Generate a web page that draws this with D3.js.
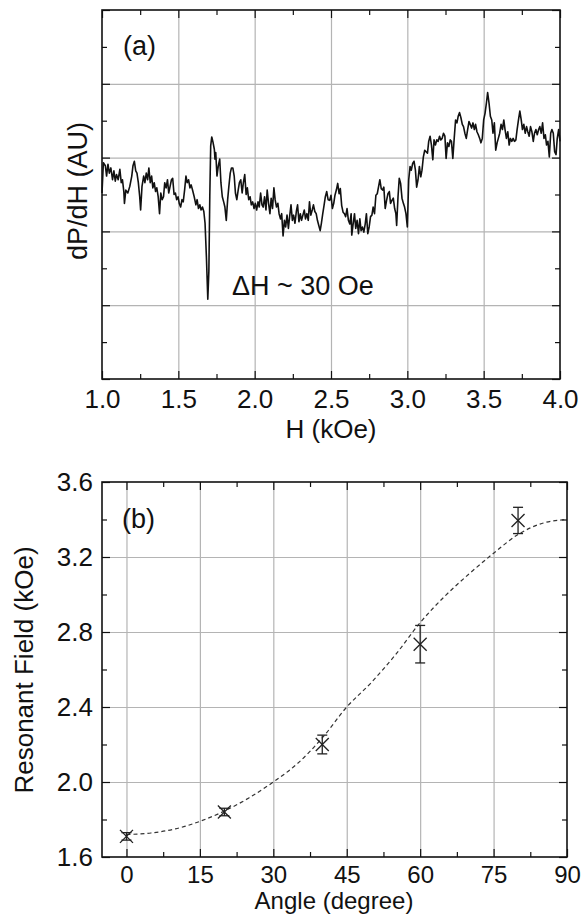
<!DOCTYPE html>
<html>
<head>
<meta charset="utf-8">
<script src="https://cdn.jsdelivr.net/npm/d3@7"></script>
<style>
  body { margin: 0; background: #fff; }
  svg text { font-family: "Liberation Sans", Arial, Helvetica, sans-serif; fill: #111; }
</style>
</head>
<body>
<svg id="chart" width="582" height="915"></svg>
<script>
// (a) FMR derivative spectrum
var fieldH = [
  1.000,1.009,1.022,1.030,1.039,1.048,1.058,1.069,1.078,1.087,
  1.095,1.106,1.117,1.126,1.134,1.143,1.147,1.156,1.169,1.182,
  1.195,1.203,1.212,1.221,1.229,1.238,1.247,1.253,1.262,1.273,
  1.281,1.290,1.299,1.307,1.316,1.325,1.333,1.342,1.351,1.359,
  1.368,1.377,1.385,1.394,1.403,1.411,1.420,1.429,1.437,1.446,
  1.455,1.463,1.472,1.481,1.489,1.498,1.506,1.515,1.524,1.532,
  1.541,1.550,1.558,1.567,1.576,1.584,1.593,1.604,1.615,1.623,
  1.632,1.641,1.649,1.658,1.667,1.675,1.684,1.693,1.700,1.706,
  1.712,1.719,1.727,1.736,1.740,1.745,1.753,1.762,1.771,1.779,
  1.788,1.797,1.805,1.814,1.823,1.831,1.840,1.848,1.857,1.866,
  1.874,1.883,1.892,1.900,1.909,1.918,1.926,1.935,1.944,1.952,
  1.961,1.970,1.978,1.987,1.996,2.004,2.013,2.022,2.030,2.039,
  2.048,2.056,2.065,2.074,2.082,2.091,2.100,2.108,2.117,2.126,
  2.134,2.143,2.152,2.160,2.169,2.177,2.186,2.195,2.203,2.212,
  2.221,2.229,2.238,2.247,2.255,2.264,2.273,2.281,2.290,2.299,
  2.307,2.316,2.325,2.333,2.342,2.351,2.359,2.368,2.377,2.385,
  2.394,2.403,2.411,2.420,2.429,2.437,2.446,2.455,2.463,2.472,
  2.481,
  2.491,2.500,2.509,2.518,2.526,2.535,2.544,2.553,2.561,2.570,
  2.579,2.588,2.596,2.605,2.614,2.623,2.632,2.636,2.645,2.654,
  2.662,2.671,2.680,2.689,2.697,2.706,2.715,2.724,2.732,2.741,
  2.750,2.759,2.768,2.776,2.785,2.794,2.803,2.811,2.820,2.829,
  2.838,2.846,2.855,2.864,2.873,2.882,2.890,2.899,2.908,2.917,
  2.925,2.930,2.939,2.947,2.956,2.965,2.974,2.982,2.991,3.000,
  3.009,3.018,3.026,3.035,3.044,3.053,3.061,3.070,3.079,3.088,
  3.096,3.105,3.114,3.123,3.132,3.140,3.149,3.158,3.167,3.175,
  3.184,3.193,3.202,3.211,3.219,3.228,3.237,3.246,3.254,3.263,
  3.272,3.281,3.289,3.298,3.307,3.316,3.325,3.333,3.342,3.351,
  3.360,3.368,3.377,3.386,3.395,3.404,3.412,3.421,3.430,3.439,
  3.447,3.456,3.465,3.474,3.482,3.491,3.500,3.509,3.518,3.526,
  3.535,3.544,3.553,3.561,3.570,3.579,3.588,3.596,3.605,3.614,
  3.623,3.632,3.640,3.649,3.658,3.667,3.675,3.684,3.693,3.702,
  3.711,3.719,3.728,3.737,3.746,3.754,3.763,3.772,3.781,3.789,
  3.798,3.807,3.816,3.825,3.833,3.842,3.851,3.860,3.868,3.877,
  3.886,3.895,3.904,3.912,3.921,3.930,3.939,3.947,3.956,3.965,
  3.974,3.982,3.991,4.000
];
var signal = [
  2.52,2.93,2.89,2.75,2.91,2.79,2.86,2.70,2.82,2.68,
  2.77,2.70,2.84,2.66,2.70,2.54,2.38,2.56,2.52,2.61,
  2.75,2.89,2.95,2.82,2.79,2.66,2.47,2.29,2.61,2.75,
  2.66,2.79,2.70,2.86,2.66,2.75,2.59,2.66,2.54,2.59,
  2.47,2.24,2.52,2.43,2.47,2.66,2.59,2.70,2.52,2.61,
  2.70,2.72,2.50,2.52,2.43,2.47,2.38,2.33,2.43,2.40,
  2.56,2.75,2.66,2.70,2.59,2.63,2.56,2.47,2.36,2.43,
  2.31,2.36,2.29,2.33,2.27,2.11,1.65,1.08,1.46,2.47,
  3.16,3.28,3.21,3.11,2.98,3.07,2.75,2.89,2.98,2.66,
  2.47,2.40,2.33,2.15,2.43,2.61,2.79,2.86,2.86,2.75,
  2.52,2.43,2.56,2.66,2.70,2.52,2.66,2.77,2.50,2.59,
  2.43,2.47,2.36,2.40,2.31,2.38,2.29,2.40,2.33,2.52,
  2.36,2.33,2.47,2.29,2.56,2.38,2.24,2.45,2.31,2.59,
  2.43,2.33,2.38,2.24,2.17,2.24,1.94,2.15,2.06,2.22,
  2.04,2.20,2.36,2.15,2.22,2.11,2.27,2.36,2.13,2.24,
  2.15,2.22,2.29,2.17,2.24,2.15,2.40,2.22,2.29,2.36,
  2.27,2.24,2.15,2.08,2.01,2.11,2.24,2.36,2.47,2.54,
  2.43,
  2.42,2.49,2.31,2.38,2.49,2.56,2.65,2.51,2.58,2.35,
  2.26,2.24,2.20,2.31,2.15,2.10,2.24,1.95,2.10,2.24,
  2.04,2.15,1.97,2.17,2.01,2.06,1.99,2.10,2.24,1.97,
  2.06,2.20,2.22,2.33,2.24,2.49,2.51,2.60,2.70,2.58,
  2.56,2.60,2.31,2.42,2.51,2.54,2.38,2.42,2.45,2.31,
  2.24,2.08,2.47,2.72,2.65,2.45,2.38,2.33,2.24,2.06,
  2.70,2.88,2.83,2.92,2.95,2.83,2.60,2.70,2.88,2.74,
  2.83,3.01,3.10,3.08,3.06,3.22,3.29,3.17,2.97,3.24,
  3.17,3.24,3.22,3.29,3.24,3.26,3.33,3.29,2.99,3.20,
  3.15,3.24,3.22,2.99,3.26,3.51,3.47,3.56,3.61,3.54,
  3.45,3.42,3.33,3.26,3.38,3.49,3.45,3.40,3.47,3.38,
  3.45,3.35,3.31,3.26,3.20,3.26,3.51,3.60,3.74,3.88,
  3.74,3.56,3.51,3.33,3.47,3.10,3.20,3.26,3.33,3.45,
  3.38,3.51,3.38,3.26,3.35,3.17,3.26,3.22,3.26,3.22,
  3.24,3.38,3.51,3.63,3.51,3.38,3.45,3.33,3.42,3.35,
  3.29,3.42,3.35,3.22,3.33,3.38,3.31,3.38,3.42,3.33,
  3.47,3.26,3.31,3.17,3.22,3.01,3.33,3.38,3.33,3.08,
  3.04,3.26,3.38,3.22
];
var fieldTicks = [1.0, 1.5, 2.0, 2.5, 3.0, 3.5, 4.0];
var fieldMinor = [1.25, 1.75, 2.25, 2.75, 3.25, 3.75];
var auTicks = [0, 1, 2, 3, 4, 5];
var auMinor = [0.5, 1.5, 2.5, 3.5, 4.5];

// (b) resonant field vs angle
var angles = [0, 20, 40, 60, 80];
var resField = [1.71, 1.84, 2.20, 2.735, 3.395];
var resErr = [0.02, 0.02, 0.05, 0.10, 0.07];
var fitAngle = [0, 5, 10, 15, 20, 25, 30, 35, 40, 45, 50, 55, 60, 65, 70, 75, 80, 85, 90];
var fitField = [1.72, 1.728, 1.75, 1.79, 1.845, 1.915, 2.00, 2.10, 2.235, 2.40, 2.53, 2.68, 2.85, 2.99, 3.11, 3.22, 3.32, 3.38, 3.40];
var angleTicks = [0, 15, 30, 45, 60, 75, 90];
var angleMinor = [7.5, 22.5, 37.5, 52.5, 67.5, 82.5];
var resTicks = [1.6, 2.0, 2.4, 2.8, 3.2, 3.6];
var resMinor = [1.8, 2.2, 2.6, 3.0, 3.4];

var svg = d3.select('#chart');
var FONT = 26;

// frame, grid and inward ticks on all four sides
function frame(x, y, o) {
  var xl = x.range()[0], xr = x.range()[1], yb = y.range()[0], yt = y.range()[1];
  var g = svg.append('g');

  function style(sel) {
    sel.select('.domain').remove();
    sel.selectAll('line').attr('stroke', '#111').attr('stroke-width', 1.2);
    sel.attr('font-size', FONT).attr('font-family', null);
    return sel;
  }

  g.append('g').attr('transform', 'translate(0,' + yb + ')')
    .call(d3.axisBottom(x).tickValues(o.xGrid).tickSize(-(yb - yt)).tickFormat(''))
    .call(style).selectAll('line').attr('stroke', '#b4b4b4');
  g.append('g').attr('transform', 'translate(' + xl + ',0)')
    .call(d3.axisLeft(y).tickValues(o.yGrid).tickSize(-(xr - xl)).tickFormat(''))
    .call(style).selectAll('line').attr('stroke', '#b4b4b4');

  var bottom = g.append('g').attr('transform', 'translate(0,' + yb + ')')
    .call(d3.axisBottom(x).tickValues(o.xTicks).tickSize(-8).tickPadding(o.xPad).tickFormat(o.xFormat))
    .call(style)
    .attr('font-size', o.xFont || FONT);
  g.append('g').attr('transform', 'translate(0,' + yb + ')')
    .call(d3.axisBottom(x).tickValues(o.xMinor).tickSize(-5).tickFormat('')).call(style);
  g.append('g').attr('transform', 'translate(0,' + yt + ')')
    .call(d3.axisTop(x).tickValues(o.xTicks).tickSize(-8).tickFormat('')).call(style);
  g.append('g').attr('transform', 'translate(0,' + yt + ')')
    .call(d3.axisTop(x).tickValues(o.xMinor).tickSize(-5).tickFormat('')).call(style);

  var left = g.append('g').attr('transform', 'translate(' + xl + ',0)')
    .call(d3.axisLeft(y).tickValues(o.yTicks).tickSize(-8).tickPadding(9)
      .tickFormat(o.yFormat || ''))
    .call(style);
  g.append('g').attr('transform', 'translate(' + xl + ',0)')
    .call(d3.axisLeft(y).tickValues(o.yMinor).tickSize(-5).tickFormat('')).call(style);
  g.append('g').attr('transform', 'translate(' + xr + ',0)')
    .call(d3.axisRight(y).tickValues(o.yTicks).tickSize(-8).tickFormat('')).call(style);
  g.append('g').attr('transform', 'translate(' + xr + ',0)')
    .call(d3.axisRight(y).tickValues(o.yMinor).tickSize(-5).tickFormat('')).call(style);

  bottom.selectAll('text').attr('fill', '#111');
  left.selectAll('text').attr('fill', '#111');

  g.append('rect')
    .attr('x', xl).attr('y', yt).attr('width', xr - xl).attr('height', yb - yt)
    .attr('fill', 'none').attr('stroke', '#111').attr('stroke-width', 1.6);
  return g;
}

// Panel (a)
var xa = d3.scaleLinear().domain([1.0, 4.0]).range([102, 560]);
var ya = d3.scaleLinear().domain([0, 5]).range([379, 10]);

frame(xa, ya, {
  xGrid: fieldTicks.slice(1, -1), yGrid: auTicks.slice(1, -1),
  xTicks: fieldTicks, xMinor: fieldMinor, xFormat: d3.format('.1f'), xPad: 11,
  yTicks: auTicks, yMinor: auMinor
});

svg.append('path')
  .datum(d3.zip(fieldH, signal))
  .attr('fill', 'none')
  .attr('stroke', '#111')
  .attr('stroke-width', 1.6)
  .attr('stroke-linejoin', 'round')
  .attr('d', d3.line().x(function (d) { return xa(d[0]); }).y(function (d) { return ya(d[1]); }));

svg.append('text').attr('x', 123).attr('y', 55).attr('font-size', FONT + 1).text('(a)');
svg.append('text').attr('x', 232).attr('y', 295).attr('font-size', FONT + 1).text('\u0394H ~ 30 Oe');
svg.append('text').attr('x', 331).attr('y', 438).attr('text-anchor', 'middle')
  .attr('font-size', FONT).text('H (kOe)');
svg.append('text').attr('transform', 'translate(87,191) rotate(-90)')
  .attr('text-anchor', 'middle').attr('font-size', FONT + 1).text('dP/dH (AU)');

// Panel (b)
var xb = d3.scaleLinear().domain([-5, 90]).range([102, 567]);
var yb = d3.scaleLinear().domain([1.6, 3.6]).range([857, 482]);

frame(xb, yb, {
  xGrid: angleTicks.slice(0, -1), yGrid: resTicks.slice(1, -1),
  xTicks: angleTicks, xMinor: angleMinor, xFormat: d3.format('d'), xPad: 9, xFont: 24,
  yTicks: resTicks, yMinor: resMinor, yFormat: d3.format('.1f')
});

svg.append('path')
  .datum(d3.zip(fitAngle, fitField))
  .attr('fill', 'none')
  .attr('stroke', '#333')
  .attr('stroke-width', 1.2)
  .attr('stroke-dasharray', '4,3')
  .attr('d', d3.line().curve(d3.curveMonotoneX)
    .x(function (d) { return xb(d[0]); }).y(function (d) { return yb(d[1]); }));

var pts = svg.append('g').attr('stroke', '#222').attr('stroke-width', 1.3);
angles.forEach(function (a, i) {
  var cx = xb(a), cy = yb(resField[i]);
  var top = yb(resField[i] + resErr[i]), bot = yb(resField[i] - resErr[i]);
  pts.append('line').attr('x1', cx).attr('x2', cx).attr('y1', top).attr('y2', bot);
  pts.append('line').attr('x1', cx - 5).attr('x2', cx + 5).attr('y1', top).attr('y2', top);
  pts.append('line').attr('x1', cx - 5).attr('x2', cx + 5).attr('y1', bot).attr('y2', bot);
  pts.append('line').attr('x1', cx - 6.5).attr('x2', cx + 6.5).attr('y1', cy - 6.5).attr('y2', cy + 6.5);
  pts.append('line').attr('x1', cx - 6.5).attr('x2', cx + 6.5).attr('y1', cy + 6.5).attr('y2', cy - 6.5);
});

svg.append('text').attr('x', 122).attr('y', 528).attr('font-size', FONT + 1).text('(b)');
svg.append('text').attr('x', 334).attr('y', 909).attr('text-anchor', 'middle')
  .attr('font-size', 24).text('Angle (degree)');
svg.append('text').attr('transform', 'translate(33,670) rotate(-90)')
  .attr('text-anchor', 'middle').attr('font-size', FONT).text('Resonant Field (kOe)');
</script>
</body>
</html>
